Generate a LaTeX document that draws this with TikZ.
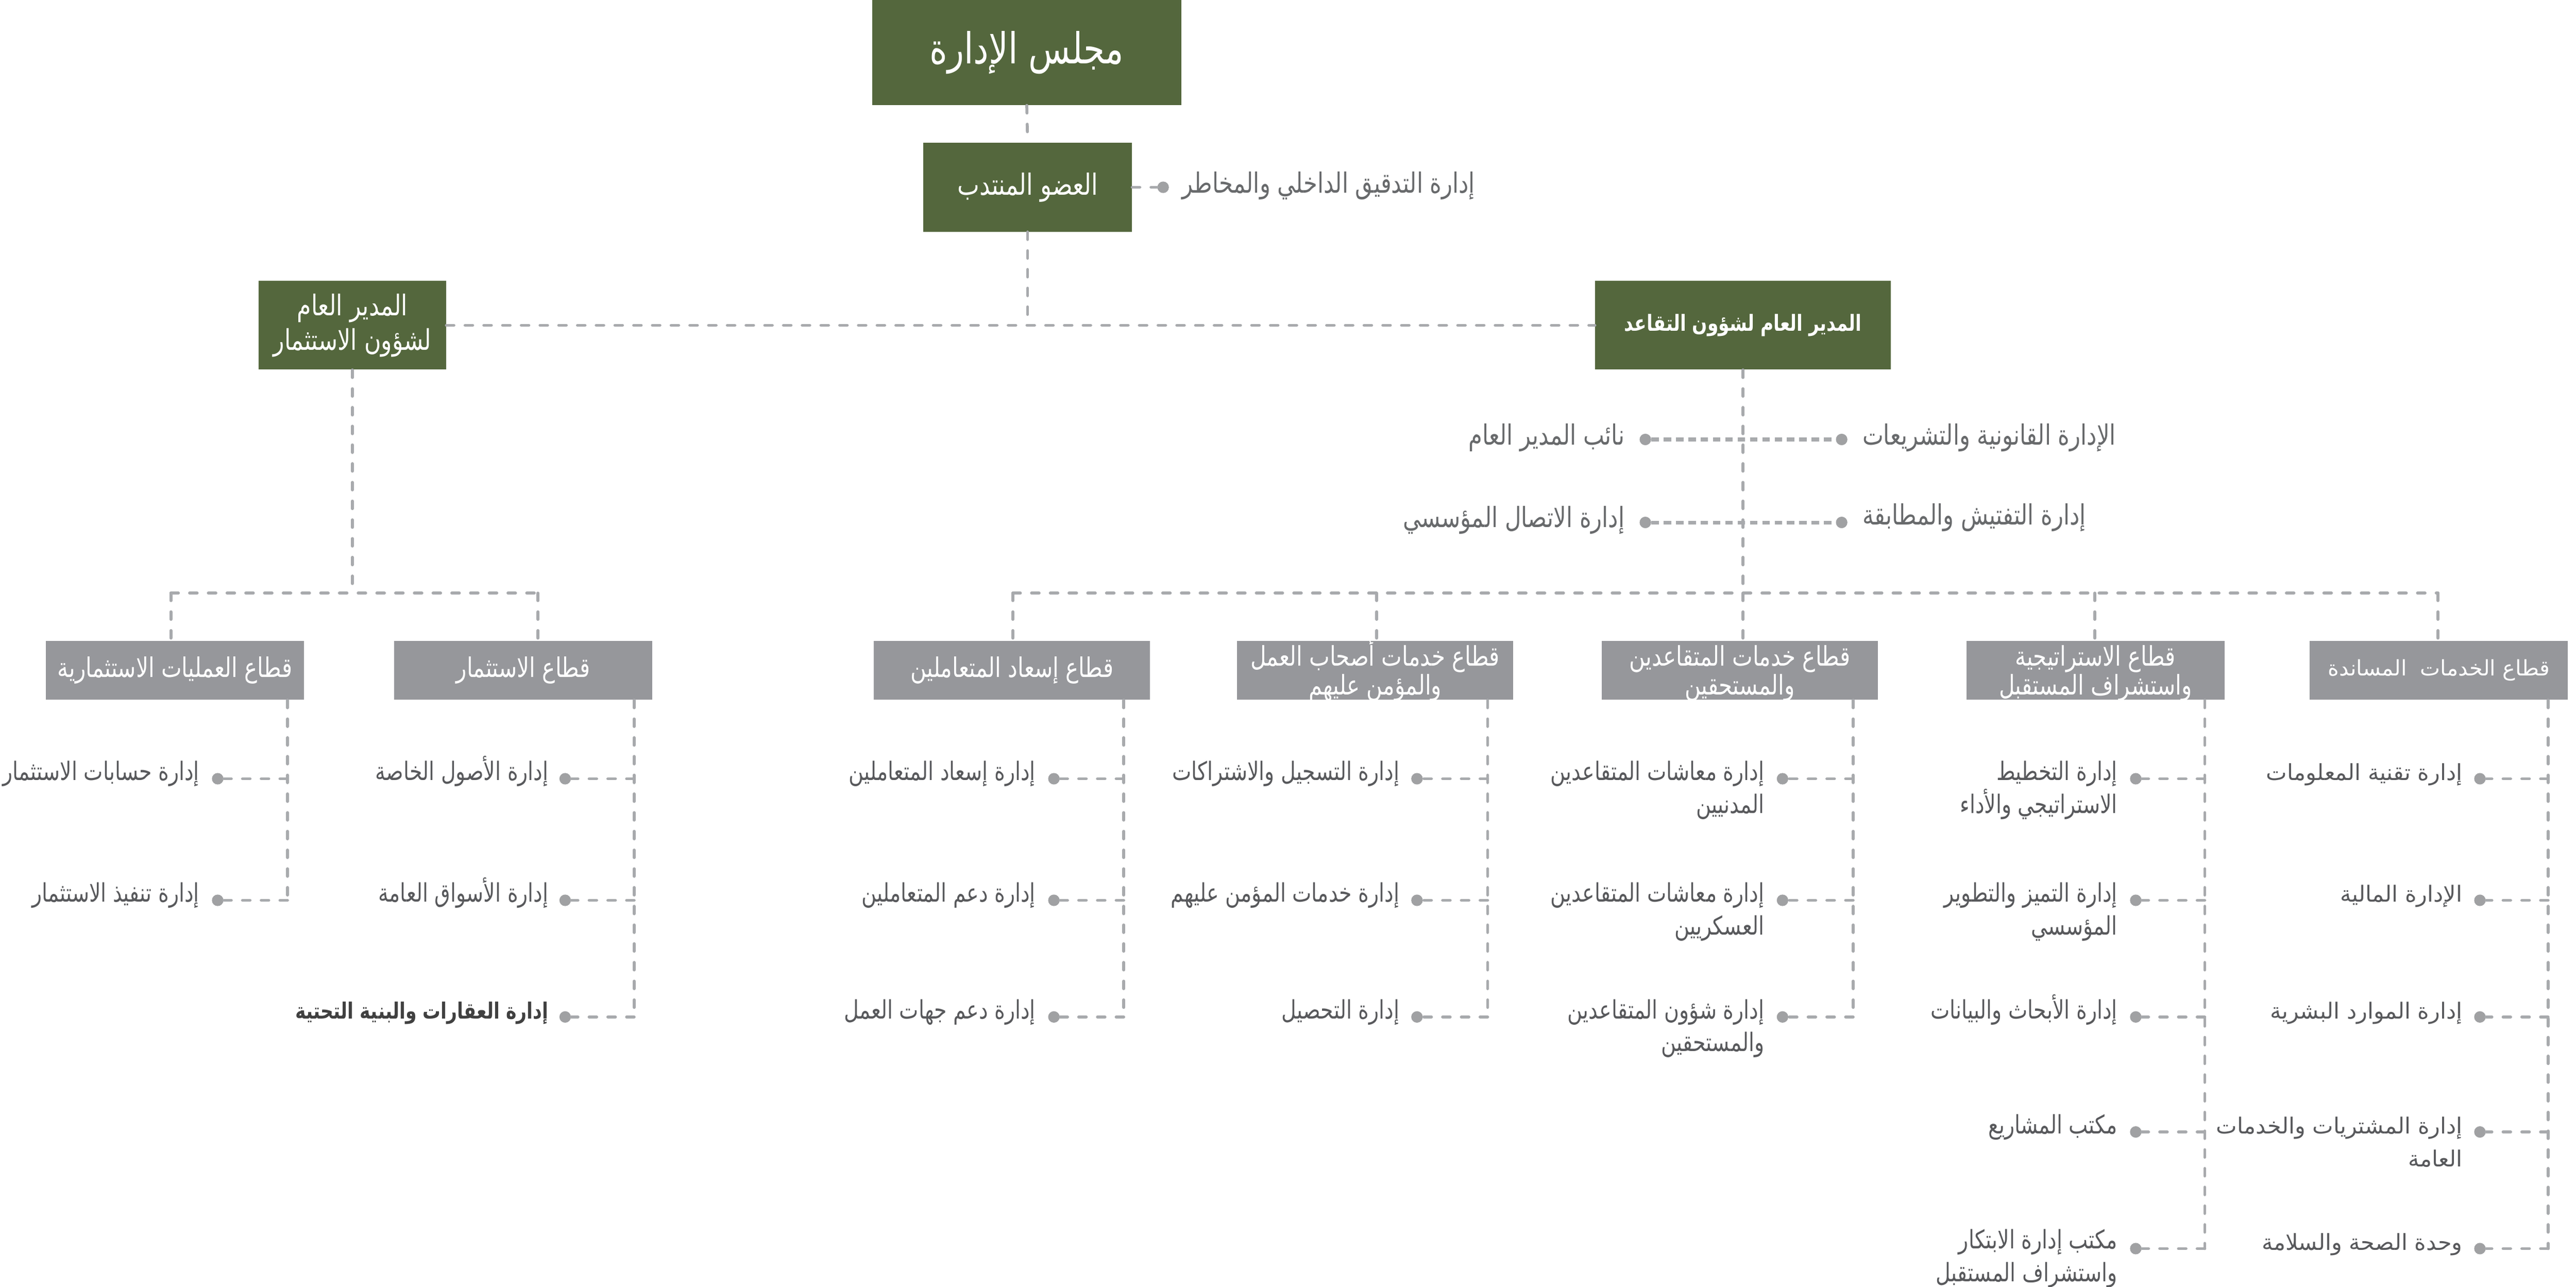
\documentclass[tikz,border=0pt]{standalone}
\usepackage{fontspec}
\TeXXeTstate=1
\newfontfamily\arabicfont[Script=Arabic,FakeStretch=0.8]{DejaVu Sans}
\newfontfamily\arabicwide[Script=Arabic]{DejaVu Sans}
\newcommand{\artx}[1]{\beginR #1\endR}
\definecolor{gm}{RGB}{84,103,61}
\definecolor{sbox}{RGB}{150,151,155}
\definecolor{lnc}{RGB}{168,170,173}
\definecolor{dotc}{RGB}{160,161,163}
\definecolor{chtx}{RGB}{88,89,92}
\definecolor{sdtx}{RGB}{104,106,108}
\begin{document}
\begin{tikzpicture}[x=1pt,y=-1pt,
  greenbox/.style={fill=gm,text=white,inner sep=0pt,align=center},
  sectorbox/.style={fill=sbox,text=white,inner sep=0pt,align=center,minimum height=36pt,font=\arabicfont\fontsize{16.5}{16}\selectfont},
  twoline/.style={text height=33pt,text depth=3pt},
  conn/.style={draw=lnc,line width=1.8pt,dash pattern=on 4.6pt off 6.8pt,line cap=round},
  sideconn/.style={draw=lnc,line width=2.2pt,dash pattern=on 4.5pt off 3pt},
  dot/.style={circle,fill=dotc,inner sep=0pt,minimum size=7pt},
  child/.style={inner sep=0pt,align=right,text=chtx,font=\arabicfont\fontsize{15.5}{20}\selectfont},
  childw/.style={inner sep=0pt,align=right,text=chtx,font=\arabicwide\fontsize{13.5}{20}\selectfont},
  sidelabel/.style={inner sep=0pt,text=sdtx,font=\arabicfont\fontsize{17}{20}\selectfont}
]
\useasboundingbox (0,0) rectangle (1568,783.3);

% ---------- top ----------
\node[greenbox,minimum width=188pt,minimum height=64pt,font=\arabicfont\fontsize{26}{28}\selectfont] (board) at (625,32) {\artx{مجلس الإدارة}};
\node[greenbox,minimum width=127pt,minimum height=54pt,font=\arabicfont\fontsize{17.8}{20}\selectfont] (member) at (625.5,114) {\artx{العضو المنتدب}};
\draw[conn] (board.south) -- (member.north);
\node[dot] (daudit) at (708,114) {};
\node[sidelabel,anchor=west] (audit) at (719.5,113) {\artx{إدارة التدقيق الداخلي والمخاطر}};
\draw[conn] (member.east) -- (daudit);

\node[greenbox,minimum width=114pt,minimum height=54pt,font=\arabicfont\fontsize{17.4}{21}\selectfont] (gmi) at (214.5,198) {\artx{المدير العام}\\\artx{لشؤون الاستثمار}};
\node[greenbox,minimum width=180pt,minimum height=54pt,font=\arabicfont\bfseries\fontsize{13.5}{15}\selectfont] (gmr) at (1061,198) {\artx{المدير العام لشؤون التقاعد}};
\coordinate (j1) at (625.5,198);
\draw[conn] (member.south) -- (j1);
\draw[conn] (gmi.east) -- (gmr.west);

% ---------- side units of retirement GM ----------
\coordinate (rbus) at (1061,361);
\draw[conn] (gmr.south) -- (rbus);
\node[dot] (dl1) at (1001.5,267.5) {};
\node[dot] (dr1) at (1121,267.5) {};
\node[dot] (dl2) at (1001.5,318) {};
\node[dot] (dr2) at (1121,318) {};
\draw[sideconn] (dl1) -- (dr1);
\draw[sideconn] (dl2) -- (dr2);
\node[sidelabel,anchor=east] (deputy) at (989,266.5) {\artx{نائب المدير العام}};
\node[sidelabel,anchor=west] (legal) at (1133.5,266.5) {\artx{الإدارة القانونية والتشريعات}};
\node[sidelabel,anchor=east] (comm) at (989,316.5) {\artx{إدارة الاتصال المؤسسي}};
\node[sidelabel,anchor=west] (inspect) at (1133.5,315) {\artx{إدارة التفتيش والمطابقة}};

% ---------- sectors ----------
\node[sectorbox,minimum width=168pt] (s1) at (616,408) {\artx{قطاع إسعاد المتعاملين}};
\node[sectorbox,twoline,minimum width=168pt] (s2) at (837,408) {\artx{قطاع خدمات أصحاب العمل}\\\artx{والمؤمن عليهم}};
\node[sectorbox,twoline,minimum width=168pt] (s3) at (1059,408) {\artx{قطاع خدمات المتقاعدين}\\\artx{والمستحقين}};
\node[sectorbox,twoline,minimum width=157pt] (s4) at (1275.5,408) {\artx{قطاع الاستراتيجية}\\\artx{واستشراف المستقبل}};
\node[sectorbox,minimum width=157pt,font=\arabicwide\fontsize{13}{16}\selectfont] (s5) at (1484.5,408) {\artx{قطاع الخدمات~ المساندة}};
\node[sectorbox,minimum width=157pt] (s6) at (106.5,408) {\artx{قطاع العمليات الاستثمارية}};
\node[sectorbox,minimum width=157pt] (s7) at (318.5,408) {\artx{قطاع الاستثمار}};

% right bus
\coordinate (b1) at (616.5,361);
\coordinate (b2) at (838,361);
\coordinate (b4) at (1275,361);
\coordinate (b5) at (1484,361);
\draw[conn] (b1) -- (b5);
\draw[conn] (b1) -- (b1 |- s1.north);
\draw[conn] (b2) -- (b2 |- s2.north);
\draw[conn] (rbus) -- (rbus |- s3.north);
\draw[conn] (b4) -- (b4 |- s4.north);
\draw[conn] (b5) -- (b5 |- s5.north);

% left bus
\coordinate (lbus) at (214.5,361);
\coordinate (b6) at (104,361);
\coordinate (b7) at (327.5,361);
\draw[conn] (gmi.south) -- (lbus);
\draw[conn] (b6) -- (b7);
\draw[conn] (b6) -- (b6 |- s6.north);
\draw[conn] (b7) -- (b7 |- s7.north);

% ---------- sector 6 ----------
\coordinate (v6) at (175,426);
\node[dot] (d6a) at (132.5,474) {};
\node[dot] (d6b) at (132.5,548) {};
\node[child,anchor=base east] (c6a) at (121.5,475) {\artx{إدارة حسابات الاستثمار}};
\node[child,anchor=base east] (c6b) at (121.5,549) {\artx{إدارة تنفيذ الاستثمار}};
\draw[conn] (v6 |- s6.south) -- (v6 |- d6b);
\foreach \d in {d6a,d6b} \draw[conn] (v6 |- \d) -- (\d);

% ---------- sector 7 ----------
\coordinate (v7) at (386,426);
\node[dot] (d7a) at (344,474) {};
\node[dot] (d7b) at (344,548) {};
\node[dot] (d7c) at (344,619) {};
\node[child,anchor=base east] (c7a) at (334,475) {\artx{إدارة الأصول الخاصة}};
\node[child,anchor=base east] (c7b) at (334,549) {\artx{إدارة الأسواق العامة}};
\node[child,anchor=base east,font=\arabicfont\bfseries\fontsize{13.6}{20}\selectfont,text=black!75] (c7c) at (334,620) {\artx{إدارة العقارات والبنية التحتية}};
\draw[conn] (v7 |- s7.south) -- (v7 |- d7c);
\foreach \d in {d7a,d7b,d7c} \draw[conn] (v7 |- \d) -- (\d);

% ---------- sector 1 ----------
\coordinate (v1) at (684,426);
\node[dot] (d1a) at (641.5,474) {};
\node[dot] (d1b) at (641.5,548) {};
\node[dot] (d1c) at (641.5,619) {};
\node[child,anchor=base east] (c1a) at (630.5,475) {\artx{إدارة إسعاد المتعاملين}};
\node[child,anchor=base east] (c1b) at (630.5,549) {\artx{إدارة دعم المتعاملين}};
\node[child,anchor=base east] (c1c) at (630.5,620) {\artx{إدارة دعم جهات العمل}};
\draw[conn] (v1 |- s1.south) -- (v1 |- d1c);
\foreach \d in {d1a,d1b,d1c} \draw[conn] (v1 |- \d) -- (\d);

% ---------- sector 2 ----------
\coordinate (v2) at (905.5,426);
\node[dot] (d2a) at (862.5,474) {};
\node[dot] (d2b) at (862.5,548) {};
\node[dot] (d2c) at (862.5,619) {};
\node[child,anchor=base east] (c2a) at (852,475) {\artx{إدارة التسجيل والاشتراكات}};
\node[child,anchor=base east] (c2b) at (852,549) {\artx{إدارة خدمات المؤمن عليهم}};
\node[child,anchor=base east] (c2c) at (852,620) {\artx{إدارة التحصيل}};
\draw[conn] (v2 |- s2.south) -- (v2 |- d2c);
\foreach \d in {d2a,d2b,d2c} \draw[conn] (v2 |- \d) -- (\d);

% ---------- sector 3 (two-line labels: base = last line) ----------
\coordinate (v3) at (1128,426);
\node[dot] (d3a) at (1085,474) {};
\node[dot] (d3b) at (1085,548) {};
\node[dot] (d3c) at (1085,619) {};
\node[child,anchor=base east] (c3a) at (1074,495) {\artx{إدارة معاشات المتقاعدين}\\\artx{المدنيين}};
\node[child,anchor=base east] (c3b) at (1074,569) {\artx{إدارة معاشات المتقاعدين}\\\artx{العسكريين}};
\node[child,anchor=base east] (c3c) at (1074,640) {\artx{إدارة شؤون المتقاعدين}\\\artx{والمستحقين}};
\draw[conn] (v3 |- s3.south) -- (v3 |- d3c);
\foreach \d in {d3a,d3b,d3c} \draw[conn] (v3 |- \d) -- (\d);

% ---------- sector 4 ----------
\coordinate (v4) at (1342,426);
\node[dot] (d4a) at (1300,474) {};
\node[dot] (d4b) at (1300,548) {};
\node[dot] (d4c) at (1300,619) {};
\node[dot] (d4d) at (1300,689) {};
\node[dot] (d4e) at (1300,760) {};
\node[child,anchor=base east] (c4a) at (1289,495) {\artx{إدارة التخطيط}\\\artx{الاستراتيجي والأداء}};
\node[child,anchor=base east] (c4b) at (1289,569) {\artx{إدارة التميز والتطوير}\\\artx{المؤسسي}};
\node[child,anchor=base east] (c4c) at (1289,620) {\artx{إدارة الأبحاث والبيانات}};
\node[child,anchor=base east] (c4d) at (1289,690) {\artx{مكتب المشاريع}};
\node[child,anchor=base east] (c4e) at (1289,780) {\artx{مكتب إدارة الابتكار}\\\artx{واستشراف المستقبل}};
\draw[conn] (v4 |- s4.south) -- (v4 |- d4e);
\foreach \d in {d4a,d4b,d4c,d4d,d4e} \draw[conn] (v4 |- \d) -- (\d);

% ---------- sector 5 ----------
\coordinate (v5) at (1551,426);
\node[dot] (d5a) at (1509.5,474) {};
\node[dot] (d5b) at (1509.5,548) {};
\node[dot] (d5c) at (1509.5,619) {};
\node[dot] (d5d) at (1509.5,689) {};
\node[dot] (d5e) at (1509.5,760) {};
\node[childw,anchor=base east] (c5a) at (1499,475) {\artx{إدارة تقنية المعلومات}};
\node[childw,anchor=base east] (c5b) at (1499,549) {\artx{الإدارة المالية}};
\node[childw,anchor=base east] (c5c) at (1499,620) {\artx{إدارة الموارد البشرية}};
\node[childw,anchor=base east] (c5d) at (1499,710) {\artx{إدارة المشتريات والخدمات}\\\artx{العامة}};
\node[childw,anchor=base east] (c5e) at (1499,761) {\artx{وحدة الصحة والسلامة}};
\draw[conn] (v5 |- s5.south) -- (v5 |- d5e);
\foreach \d in {d5a,d5b,d5c,d5d,d5e} \draw[conn] (v5 |- \d) -- (\d);
\end{tikzpicture}
\end{document}
